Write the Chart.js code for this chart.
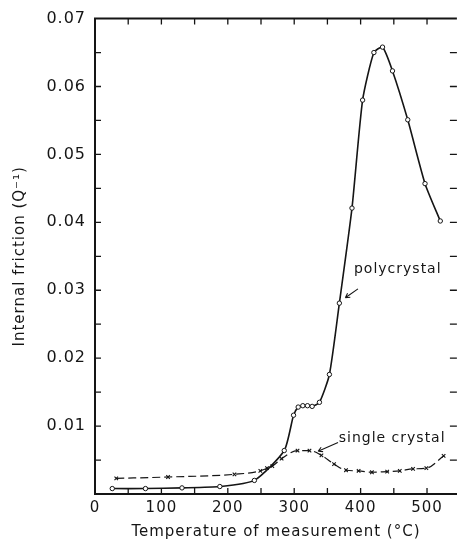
<!DOCTYPE html>
<html>
<head>
<meta charset="utf-8">
<title>Internal friction vs temperature</title>
<script src="https://cdn.jsdelivr.net/npm/chart.js@4.4.1/dist/chart.umd.min.js"></script>
<style>
  html, body { margin: 0; padding: 0; background: #fff; }
  #chart { display: block; }
</style>
</head>
<body>
<canvas id="chart" width="462" height="541"></canvas>
<script>
// measured internal friction, polycrystal (open circles)
const polyTemp = [26, 76, 131, 188, 240, 285, 299, 306, 313, 320, 327, 338, 353, 368, 387, 403, 420, 433, 448, 471, 497, 520];
const polyQ = [0.0008, 0.0008, 0.0009, 0.0011, 0.0020, 0.0064, 0.0116, 0.0128, 0.0130, 0.0130, 0.0129, 0.0135, 0.0176, 0.0281, 0.0421, 0.0580, 0.0650, 0.0658, 0.0623, 0.0551, 0.0457, 0.0402];

// single crystal (crosses, dashed)
const singleTemp = [32, 110, 210, 249, 259, 267, 281, 305, 323, 341, 360, 378, 397, 417, 440, 459, 479, 499, 525];
const singleQ = [0.0023, 0.0025, 0.0029, 0.0034, 0.0038, 0.0041, 0.0052, 0.0064, 0.0064, 0.0057, 0.0044, 0.0035, 0.0034, 0.0032, 0.0033, 0.0034, 0.0037, 0.0038, 0.0056];

// tick positions on the temperature axis
const xTicks = [0, 50, 100, 150, 200, 250, 300, 350, 400, 450, 500];

const xTitle = 'Temperature of measurement (°C)';
const yTitle = 'Internal friction (Q⁻¹)';

// curve labels: [text, temp, Q] plus arrow from -> to
const curveLabels = [
  { text: 'polycrystal', t: 390, q: 0.0325, from: [396, 0.0302], to: [377, 0.0289] },
  { text: 'single crystal', t: 367, q: 0.0076, from: [366, 0.0076], to: [336, 0.0063] }
];

const INK = '#151515';
const FONT = '"DejaVu Sans", sans-serif';

const toPoints = (xs, ys) => xs.map((x, i) => ({ x: x, y: ys[i] }));

// tick marks pointing into the plot on all four sides, plus the top frame line
const frameTicks = {
  id: 'frameTicks',
  beforeDraw(chart) {
    chart.ctx.letterSpacing = '1px';
  },
  afterDraw(chart) {
    const { ctx, chartArea: a, scales: { x, y } } = chart;
    ctx.save();
    ctx.strokeStyle = INK;
    ctx.lineWidth = 2;
    ctx.beginPath();
    ctx.moveTo(a.left - 1, a.top);
    ctx.lineTo(a.right, a.top);
    ctx.stroke();

    ctx.lineWidth = 1.3;
    ctx.beginPath();
    x.ticks.forEach(t => {
      if (t.value <= x.min || t.value >= x.max) return;
      const px = x.getPixelForValue(t.value);
      ctx.moveTo(px, a.bottom);
      ctx.lineTo(px, a.bottom - 6);
      ctx.moveTo(px, a.top);
      ctx.lineTo(px, a.top + 6);
    });
    y.ticks.forEach(t => {
      if (t.value <= y.min || t.value >= y.max - 1e-9) return;
      const py = y.getPixelForValue(t.value);
      ctx.moveTo(a.left, py);
      ctx.lineTo(a.left + 6, py);
      ctx.moveTo(a.right, py);
      ctx.lineTo(a.right - 7, py);
    });
    ctx.stroke();

    // curve names with their short pointers
    ctx.fillStyle = INK;
    ctx.font = '14px ' + FONT;
    ctx.textBaseline = 'alphabetic';
    ctx.textAlign = 'left';
    ctx.lineWidth = 1.1;
    curveLabels.forEach(l => {
      ctx.fillText(l.text, x.getPixelForValue(l.t), y.getPixelForValue(l.q));
      const x0 = x.getPixelForValue(l.from[0]), y0 = y.getPixelForValue(l.from[1]);
      const x1 = x.getPixelForValue(l.to[0]), y1 = y.getPixelForValue(l.to[1]);
      ctx.beginPath();
      ctx.moveTo(x0, y0);
      ctx.lineTo(x1, y1);
      const ang = Math.atan2(y1 - y0, x1 - x0);
      ctx.moveTo(x1, y1);
      ctx.lineTo(x1 - 5 * Math.cos(ang - 0.5), y1 - 5 * Math.sin(ang - 0.5));
      ctx.moveTo(x1, y1);
      ctx.lineTo(x1 - 5 * Math.cos(ang + 0.5), y1 - 5 * Math.sin(ang + 0.5));
      ctx.stroke();
    });
    ctx.restore();
  }
};

new Chart(document.getElementById('chart'), {
  type: 'line',
  data: {
    datasets: [
      {
        label: 'polycrystal',
        data: toPoints(polyTemp, polyQ),
        borderColor: INK,
        borderWidth: 1.6,
        tension: 0.2,
        pointStyle: 'circle',
        pointRadius: 2.2,
        pointBorderWidth: 1,
        pointBackgroundColor: '#fff',
        pointBorderColor: INK,
      },
      {
        label: 'single crystal',
        data: toPoints(singleTemp, singleQ),
        borderColor: INK,
        borderWidth: 1.2,
        borderDash: [8, 4],
        cubicInterpolationMode: 'monotone',
        pointStyle: 'crossRot',
        pointRadius: 2.5,
        pointBorderWidth: 1.1,
        pointBorderColor: INK,
      },
    ],
  },
  options: {
    responsive: false,
    animation: false,
    devicePixelRatio: 1,
    layout: { padding: { top: 17, right: 0, bottom: 0, left: 0 } },
    plugins: { legend: { display: false }, tooltip: { enabled: false } },
    scales: {
      x: {
        type: 'linear',
        min: 0,
        max: 545,
        afterFit: s => { s.height = 47; },
        afterBuildTicks: s => { s.ticks = xTicks.map(v => ({ value: v })); },
        grid: { display: true, drawOnChartArea: false, drawTicks: false },
        border: { display: true, color: INK, width: 2 },
        ticks: {
          padding: 5,
          color: INK,
          font: { family: FONT, size: 15 },
          maxRotation: 0,
          autoSkip: false,
          callback: v => (v % 100 === 0 ? String(v) : ''),
        },
        title: { display: true, text: xTitle, color: INK, font: { family: FONT, size: 15 }, padding: { top: 0, bottom: 0 } },
      },
      y: {
        min: 0,
        max: 0.07,
        afterFit: s => { s.width = 95; },
        grid: { display: true, drawOnChartArea: false, drawTicks: false },
        border: { display: true, color: INK, width: 2 },
        ticks: {
          stepSize: 0.005,
          padding: 9,
          color: INK,
          font: { family: FONT, size: 16 },
          autoSkip: false,
          callback: v => {
            const k = Math.round(v * 1000);
            return (k > 0 && k % 10 === 0) ? (k / 1000).toFixed(2) : '';
          },
        },
        title: { display: true, text: yTitle, color: INK, font: { family: FONT, size: 15 }, padding: { top: 11, bottom: 0 } },
      },
    },
  },
  plugins: [frameTicks],
});
</script>
</body>
</html>
